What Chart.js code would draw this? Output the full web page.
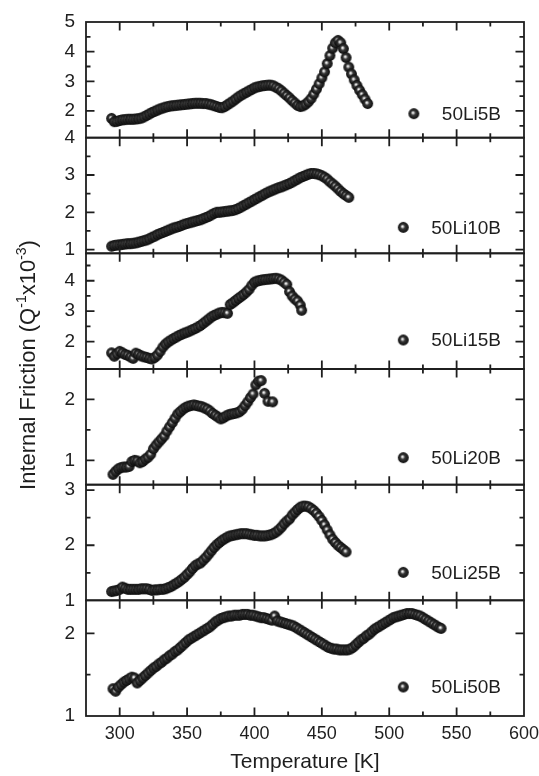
<!DOCTYPE html>
<html><head><meta charset="utf-8">
<script src="https://cdn.jsdelivr.net/npm/chart.js@4"></script>
<style>html,body{margin:0;padding:0;background:#fff;}canvas{display:block;}</style>
</head><body>
<canvas id="c" width="539" height="776"></canvas>
<script>
// ---------- data ----------
const seriesLabels = ['50Li5B','50Li10B','50Li15B','50Li20B','50Li25B','50Li50B'];
const xTicks = [300,350,400,450,500,550,600];
const yMins = [1.1,0.9,1.1,0.6,1.0,1.0];
const yMaxs = [5,4,4.9,2.5,3.1,2.4];
const yTicks = [[2,3,4,5],[1,2,3,4],[2,3,4],[1,2],[1,2,3],[1,2]];

const t5B = [294,296,298,300,302,304,306,308,310,312,314,316,318,320,322,324,326,328,330,332,334,336,338,340,342,344,346,348,350,352,354,356,358,360,362,364,366,368,370,372,374,376,378,380,382,384,386,388,390,392,394,396,398,400,402,404,406,408,410,412,414,416,418,420,422,424,426,428,430,432,434,436,438,440,442,444,446,448,450,452,454,456,458,460,462,464,466,468,470,472,474,476,478,480,482,484];
const if5B = [1.75,1.64,1.65,1.68,1.70,1.71,1.72,1.72,1.72,1.73,1.74,1.76,1.80,1.85,1.90,1.95,1.99,2.03,2.07,2.10,2.13,2.15,2.17,2.18,2.19,2.20,2.21,2.22,2.23,2.24,2.25,2.26,2.26,2.26,2.25,2.25,2.23,2.21,2.18,2.15,2.12,2.11,2.15,2.21,2.27,2.33,2.40,2.47,2.53,2.58,2.63,2.68,2.73,2.78,2.81,2.83,2.85,2.86,2.87,2.87,2.85,2.80,2.75,2.68,2.60,2.52,2.44,2.35,2.27,2.19,2.15,2.17,2.23,2.31,2.42,2.57,2.74,2.92,3.12,3.32,3.60,3.87,4.12,4.30,4.38,4.30,4.10,3.80,3.48,3.25,3.05,2.86,2.70,2.55,2.40,2.25];

const t10B = [294,296,298,300,302,304,306,308,310,312,314,316,318,320,322,324,326,328,330,332,334,336,338,340,342,344,346,348,350,352,354,356,358,360,362,364,366,368,370,372,374,376,378,380,382,384,386,388,390,392,394,396,398,400,402,404,406,408,410,412,414,416,418,420,422,424,426,428,430,432,434,436,438,440,442,444,446,448,450,452,454,456,458,460,462,464,466,468,470];
const if10B = [1.09,1.11,1.12,1.13,1.14,1.15,1.16,1.16,1.17,1.18,1.20,1.22,1.24,1.26,1.29,1.33,1.36,1.40,1.43,1.46,1.49,1.52,1.55,1.58,1.60,1.62,1.65,1.68,1.70,1.72,1.74,1.76,1.78,1.80,1.83,1.86,1.89,1.93,1.97,2.00,2.00,2.01,2.02,2.03,2.04,2.05,2.07,2.10,2.14,2.18,2.22,2.26,2.30,2.34,2.38,2.42,2.46,2.50,2.54,2.57,2.60,2.63,2.66,2.68,2.71,2.74,2.77,2.81,2.85,2.89,2.93,2.96,2.99,3.02,3.04,3.04,3.03,3.01,2.98,2.94,2.89,2.82,2.76,2.70,2.63,2.56,2.50,2.45,2.40];

const t15B = [294,296,298,300,302,304,306,308,310,312,314,316,318,320,322,324,326,328,330,332,334,336,338,340,342,344,346,348,350,352,354,356,358,360,362,364,366,368,370,372,374,376,378,380,382,384,386,388,390,392,394,396,398,400,402,404,406,408,410,412,414,416,418,420,422,424,426,428,430,432,434,435];
const if15B = [1.63,1.52,1.60,1.68,1.63,1.58,1.55,1.50,1.45,1.62,1.58,1.53,1.50,1.48,1.45,1.43,1.48,1.56,1.68,1.82,1.92,1.99,2.05,2.10,2.15,2.20,2.24,2.28,2.31,2.35,2.39,2.43,2.48,2.53,2.60,2.67,2.74,2.81,2.86,2.90,2.94,2.96,2.95,2.93,3.22,3.28,3.35,3.42,3.48,3.55,3.63,3.72,3.85,3.95,3.99,4.01,4.03,4.04,4.05,4.06,4.07,4.08,4.06,4.02,3.95,3.88,3.64,3.50,3.40,3.33,3.20,3.03];

const t20B = [295,297,299,301,303,305,307,309,311,313,315,317,319,321,323,325,327,329,331,333,335,337,339,341,343,345,347,349,351,353,355,357,359,361,363,365,367,369,371,373,375,377,379,381,383,385,387,389,391,393,395,397,399,401,403,405,407.5,410,413.5];
const if20B = [0.77,0.82,0.86,0.88,0.89,0.89,0.90,0.98,1.00,0.99,0.96,0.98,1.02,1.05,1.10,1.19,1.25,1.30,1.35,1.40,1.48,1.55,1.62,1.69,1.76,1.80,1.84,1.87,1.89,1.90,1.91,1.90,1.89,1.88,1.86,1.84,1.81,1.77,1.74,1.71,1.68,1.70,1.73,1.75,1.76,1.77,1.78,1.80,1.84,1.90,1.96,2.03,2.09,2.24,2.30,2.31,2.10,1.97,1.96];

const t25B = [294,296,298,300,302,304,306,308,310,312,314,316,318,320,322,324,326,328,330,332,334,336,338,340,342,344,346,348,350,352,354,356,358,360,362,364,366,368,370,372,374,376,378,380,382,384,386,388,390,392,394,396,398,400,402,404,406,408,410,412,414,416,418,420,422,424,426,428,430,432,434,436,438,440,442,444,446,448,450,452,454,456,458,460,462,464,466,468];
const if25B = [1.16,1.17,1.18,1.20,1.24,1.22,1.20,1.20,1.20,1.20,1.20,1.21,1.21,1.21,1.20,1.18,1.19,1.19,1.20,1.20,1.21,1.23,1.25,1.28,1.31,1.34,1.38,1.42,1.47,1.52,1.58,1.63,1.66,1.68,1.73,1.78,1.84,1.90,1.96,2.01,2.05,2.09,2.12,2.15,2.17,2.18,2.19,2.20,2.21,2.21,2.21,2.20,2.19,2.18,2.18,2.17,2.17,2.17,2.18,2.19,2.21,2.24,2.28,2.33,2.39,2.44,2.48,2.55,2.60,2.65,2.69,2.71,2.71,2.70,2.67,2.63,2.58,2.52,2.45,2.37,2.28,2.19,2.11,2.05,2.00,1.96,1.92,1.88];

const t50B = [295,297,299,301,303,305,307,309,311,313,315,317,319,321,323,325,327,329,331,333,335,337,339,341,343,345,347,349,351,353,355,357,359,361,363,365,367,369,371,373,375,377,379,381,383,385,387,389,391,393,395,397,399,401,403,405,407,409,411,413,415,417,419,421,423,425,427,429,431,433,435,437,439,441,443,445,447,449,451,453,455,457,459,461,463,465,467,469,471,473,475,477,479,481,483,485,487,489,491,493,495,497,499,501,503,505,507,509,511,513,515,517,519,521,523,525,527,529,531,533,535,537,538.5];
const if50B = [1.33,1.30,1.35,1.38,1.41,1.43,1.45,1.47,1.46,1.40,1.43,1.46,1.49,1.52,1.55,1.58,1.60,1.63,1.65,1.68,1.70,1.73,1.75,1.78,1.80,1.83,1.86,1.89,1.92,1.94,1.96,1.98,2.00,2.02,2.04,2.06,2.08,2.11,2.14,2.16,2.18,2.19,2.20,2.21,2.21,2.22,2.22,2.22,2.23,2.23,2.23,2.22,2.22,2.21,2.20,2.19,2.19,2.18,2.17,2.16,2.21,2.15,2.14,2.13,2.12,2.11,2.10,2.09,2.07,2.05,2.03,2.01,1.99,1.97,1.95,1.93,1.91,1.89,1.87,1.85,1.83,1.82,1.81,1.81,1.80,1.80,1.80,1.80,1.81,1.83,1.86,1.89,1.92,1.94,1.97,1.99,2.02,2.05,2.07,2.09,2.11,2.13,2.15,2.17,2.19,2.20,2.21,2.22,2.23,2.24,2.24,2.24,2.23,2.22,2.21,2.19,2.17,2.15,2.13,2.11,2.09,2.07,2.06];

const seriesT = [t5B,t10B,t15B,t20B,t25B,t50B];
const seriesV = [if5B,if10B,if15B,if20B,if25B,if50B];

// ---------- rendering ----------
const FONT = "'Liberation Sans', Arial, Helvetica, sans-serif";
const INK = '#1e1e1e';
Chart.defaults.font.family = FONT;
Chart.defaults.color = INK;

function makeSphere(r){
  const s = Math.ceil(r*2)+2;
  const c = document.createElement('canvas'); c.width = s; c.height = s;
  const g = c.getContext('2d'); const cx = s/2, cy = s/2;
  const grad = g.createRadialGradient(cx-r*0.2, cy-r*0.2, 0, cx, cy, r);
  grad.addColorStop(0,'#ffffff'); grad.addColorStop(0.18,'#c8c8c8');
  grad.addColorStop(0.42,'#3a3a3a'); grad.addColorStop(1,'#0a0a0a');
  g.fillStyle = grad; g.beginPath(); g.arc(cx,cy,r,0,Math.PI*2); g.fill();
  return c;
}
const sphere = makeSphere(5.4);
const panelIds = seriesLabels.map((_,i)=>'y'+i);

const datasets = seriesLabels.map((lab,i)=>({
  label: lab,
  data: seriesT[i].map((t,k)=>({x:t, y:seriesV[i][k]})),
  yAxisID: panelIds[i], xAxisID: 'x',
  pointStyle: sphere, pointRadius: 5, showLine: false,
  backgroundColor: '#111', borderColor: '#111'
}));

const scales = {
  x: {
    type:'linear', position:'bottom', min:275, max:600,
    grid:{display:false, drawTicks:false}, border:{display:false},
    ticks:{font:{size:18}, color:INK, padding:7, autoSkip:false, maxRotation:0},
    afterBuildTicks: s => { s.ticks = xTicks.map(v=>({value:v})); },
    afterFit: s => { s.height = 60; s.paddingLeft = 0; s.paddingRight = 0; },
    title:{display:true, text:'Temperature [K]', font:{size:21}, color:INK, padding:{top:0,bottom:1}}
  }
};
panelIds.forEach((id,i)=>{
  scales[id] = {
    type:'linear', position:'left', stack:'panels', stackWeight:1, weight: 10-i,
    min:yMins[i], max:yMaxs[i],
    grid:{display:false, drawTicks:false}, border:{display:false},
    ticks:{font:{size:19}, color:INK, padding:11, autoSkip:false},
    afterBuildTicks: s => { s.ticks = yTicks[i].map(v=>({value:v})); },
    afterFit: s => { s.width = 86; s.paddingTop = 0; s.paddingBottom = 0; }
  };
});

const legendOffsets = [24,26,29,27,28,29];

const framePlugin = {
  id:'frames',
  afterDraw(chart){
    const {ctx, chartArea:a, scales:sc} = chart;
    const xs = sc.x;
    ctx.save();
    ctx.strokeStyle = INK;
    panelIds.forEach((id,i)=>{
      const ys = sc[id];
      const top = ys.top, bot = ys.bottom;
      ctx.lineWidth = 1.8;
      ctx.strokeRect(a.left, top, a.right-a.left, bot-top);
      ctx.lineWidth = 1.8;
      ctx.beginPath();
      for (let v = 300; v < 600; v += 25){
        const len = (v % 50 === 0) ? 8.5 : 4.5;
        const px = xs.getPixelForValue(v);
        ctx.moveTo(px, bot); ctx.lineTo(px, bot-len);
        ctx.moveTo(px, top); ctx.lineTo(px, top+len);
      }
      const majors = yTicks[i];
      const minors = [];
      majors.forEach(m=>{ [m-0.5,m+0.5].forEach(v=>{ if (v>ys.min && v<ys.max && !minors.includes(v) && !majors.includes(v)) minors.push(v); }); });
      majors.forEach(v=>{
        if (v<=ys.min || v>=ys.max) return;
        const py = ys.getPixelForValue(v);
        ctx.moveTo(a.left, py); ctx.lineTo(a.left+8.5, py);
        ctx.moveTo(a.right, py); ctx.lineTo(a.right-8.5, py);
      });
      minors.forEach(v=>{
        const py = ys.getPixelForValue(v);
        ctx.moveTo(a.left, py); ctx.lineTo(a.left+4.5, py);
        ctx.moveTo(a.right, py); ctx.lineTo(a.right-4.5, py);
      });
      ctx.stroke();
      // legend entry
      ctx.font = '19px ' + FONT;
      ctx.fillStyle = INK; ctx.textAlign = 'right'; ctx.textBaseline = 'middle';
      const ly = bot - legendOffsets[i];
      const tx = a.right - 23;
      ctx.fillText(seriesLabels[i], tx, ly+1);
      const w = ctx.measureText(seriesLabels[i]).width;
      const mx = tx - w - 28;
      ctx.drawImage(sphere, mx - sphere.width/2, ly - sphere.height/2);
    });
    // y axis title with superscripts
    const parts = [['Internal Friction (Q',22,0],['-1',14,-9],['x10',22,0],['-3',14,-9],[')',22,0]];
    ctx.translate(35, 365); ctx.rotate(-Math.PI/2);
    ctx.textAlign = 'left'; ctx.textBaseline = 'alphabetic';
    let total = 0;
    parts.forEach(p=>{ ctx.font = p[1]+'px '+FONT; total += ctx.measureText(p[0]).width; });
    let x = -total/2;
    parts.forEach(p=>{ ctx.font = p[1]+'px '+FONT; ctx.fillText(p[0], x, p[2]); x += ctx.measureText(p[0]).width; });
    ctx.restore();
  }
};

new Chart(document.getElementById('c'), {
  type:'scatter',
  data:{datasets},
  options:{
    responsive:false, animation:false, devicePixelRatio:1,
    layout:{padding:{left:0, right:15, top:22, bottom:0}},
    plugins:{legend:{display:false}, tooltip:{enabled:false}},
    scales
  },
  plugins:[framePlugin]
});
</script>
</body></html>
